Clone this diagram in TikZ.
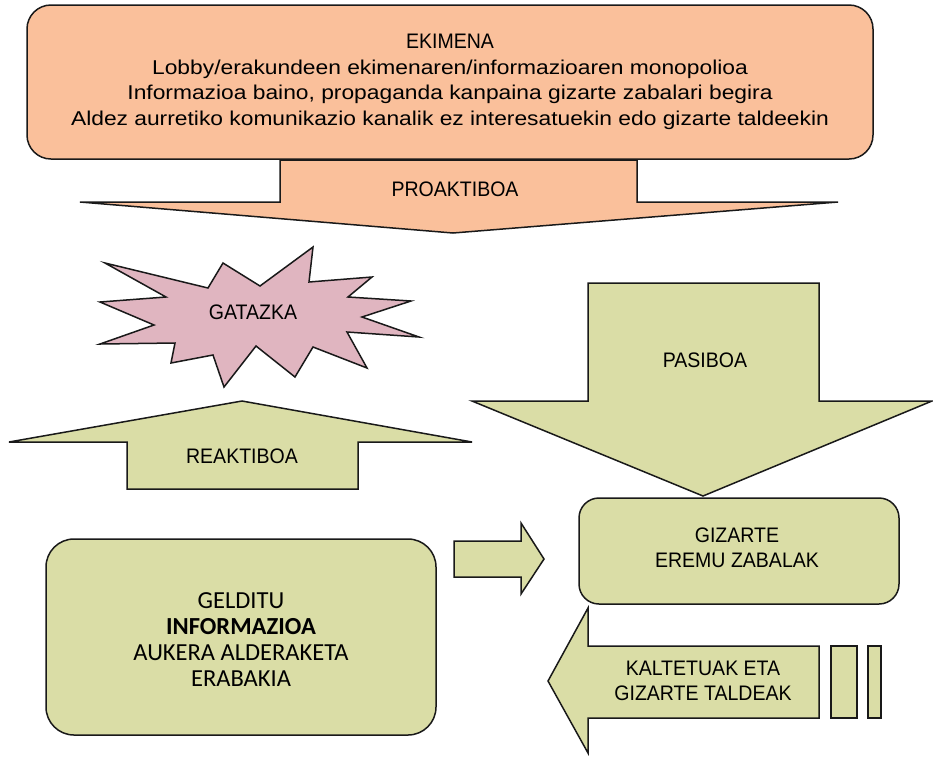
\documentclass[tikz,border=0pt]{standalone}
\usepackage{fontspec}
\setmainfont[FakeStretch=0.93]{Liberation Sans}
\newfontfamily\widefont[FakeStretch=1.14]{Liberation Sans}
\newfontfamily\calib{Carlito}
\definecolor{peach}{RGB}{250,192,155}
\definecolor{olive}{RGB}{218,221,166}
\definecolor{pinkstar}{RGB}{224,181,192}
\definecolor{edge}{RGB}{25,25,25}
\tikzset{
  shapebox/.style={draw=edge, line width=1.5pt, line join=miter},
  lbl/.style={font=\fontsize{21}{25.5}\selectfont, align=center, inner sep=0pt, text=black},
  lblc/.style={font=\calib\fontsize{24.5}{26}\selectfont, align=center, inner sep=0pt, text=black},
}
\begin{document}
\begin{tikzpicture}[x=1pt,y=-1pt]
\useasboundingbox (0,0) rectangle (933,756);
% top box
\draw[shapebox, fill=peach, rounded corners=24pt] (27,5) rectangle (873,159);
\node[lbl] (ekimena) at (450,82) {EKIMENA\\{\widefont\fontsize{20}{25.5}\selectfont Lobby/erakundeen ekimenaren/informazioaren monopolioa}\\{\widefont\fontsize{20}{25.5}\selectfont Informazioa baino, propaganda kanpaina gizarte zabalari begira}\\{\widefont\fontsize{20}{25.5}\selectfont Aldez aurretiko komunikazio kanalik ez interesatuekin edo gizarte taldeekin}};
% proaktiboa arrow
\draw[shapebox, fill=peach] (280,160) -- (637,160) -- (637,202) -- (838,202) -- (453,233) -- (80,202) -- (280,202) -- cycle;
\node[lbl] (proak) at (455,189) {PROAKTIBOA};
% star
\draw[shapebox, fill=pinkstar] (105,263) -- (208,288) -- (223,263) -- (260,286) -- (313,247) -- (309,282) -- (372,277) -- (348,297) -- (411,301) -- (362,317) -- (419,337) -- (347,332) -- (367,368) -- (313,347) -- (295,377) -- (256,346) -- (224,387) -- (213,355) -- (171,363) -- (175,343) -- (100,344) -- (154,325) -- (100,302) -- (166,297) -- cycle;
\node[lbl] (gatazka) at (253,312) {GATAZKA};
% reaktiboa arrow
\draw[shapebox, fill=olive] (242,401) -- (472,442) -- (358,442) -- (358,489) -- (127,489) -- (127,442) -- (9,442) -- cycle;
\node[lbl] (reak) at (242,456) {REAKTIBOA};
% pasiboa arrow
\draw[shapebox, fill=olive] (588,283) -- (819,283) -- (819,401) -- (932,401) -- (703,496) -- (472,401) -- (588,401) -- cycle;
\node[lbl] (pasiboa) at (705,360) {PASIBOA};
% gizarte box
\draw[shapebox, fill=olive, rounded corners=20pt] (579,498) rectangle (899,604);
\node[lbl] (gizarte) at (737,548) {GIZARTE\\EREMU ZABALAK};
% small right arrow
\draw[shapebox, fill=olive] (454,541) -- (521,541) -- (521,523) -- (544,559) -- (521,594) -- (521,577) -- (454,577) -- cycle;
% gelditu box
\draw[shapebox, fill=olive, rounded corners=28pt] (46,539) rectangle (436,735);
\node[lblc] (gelditu) at (241,640) {GELDITU\\\textbf{INFORMAZIOA}\\AUKERA ALDERAKETA\\ERABAKIA};
% left arrow
\draw[shapebox, fill=olive] (548,681) -- (588,608) -- (588,646) -- (819,646) -- (819,718) -- (588,718) -- (588,753) -- cycle;
\draw[shapebox, fill=olive] (831,646) rectangle (857,718);
\draw[shapebox, fill=olive] (868,646) rectangle (881,718);
\node[lbl] (kalte) at (703,681) {KALTETUAK ETA\\GIZARTE TALDEAK};
\end{tikzpicture}
\end{document}
